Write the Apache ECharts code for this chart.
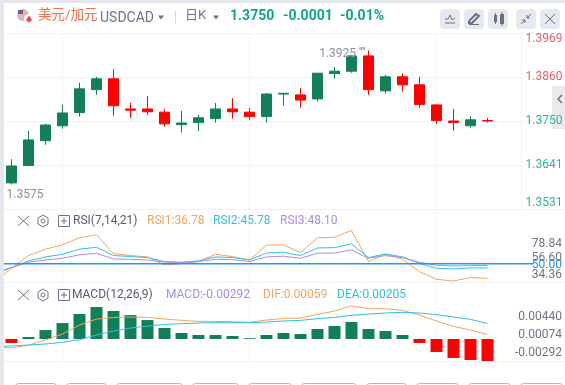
<!DOCTYPE html>
<html>
<head>
<meta charset="utf-8">
<title>USDCAD</title>
<style>
  html, body { margin: 0; padding: 0; background: #fff; }
  #chart { width: 565px; height: 385px; }
</style>
</head>
<body>
<div id="chart"></div>
<script src="https://cdn.jsdelivr.net/npm/echarts@6/dist/echarts.min.js"></script>
<script>
// 日K [open, close, low, high]，第一根在画面左侧之外，只有指标线用到
var candles = [
  '-',
  [1.3596, 1.3638, 1.3592, 1.3655], [1.3639, 1.3703, 1.3638, 1.3725], [1.3701, 1.3740, 1.3691, 1.3743],
  [1.3738, 1.3770, 1.3731, 1.3790], [1.3771, 1.3830, 1.3761, 1.3845], [1.3828, 1.3855, 1.3815, 1.3860],
  [1.3855, 1.3788, 1.3763, 1.3879], [1.3780, 1.3777, 1.3758, 1.3795], [1.3780, 1.3773, 1.3765, 1.3812],
  [1.3772, 1.3743, 1.3736, 1.3780], [1.3741, 1.3745, 1.3721, 1.3775], [1.3746, 1.3758, 1.3725, 1.3765],
  [1.3756, 1.3780, 1.3746, 1.3795], [1.3780, 1.3773, 1.3756, 1.3807], [1.3772, 1.3761, 1.3753, 1.3782],
  [1.3761, 1.3817, 1.3746, 1.3820], [1.3817, 1.3819, 1.3788, 1.3820], [1.3815, 1.3802, 1.3783, 1.3832],
  [1.3805, 1.3869, 1.3798, 1.3869], [1.3868, 1.3874, 1.3855, 1.3884], [1.3874, 1.3912, 1.3870, 1.3914],
  [1.3912, 1.3828, 1.3815, 1.3925], [1.3825, 1.3860, 1.3818, 1.3865], [1.3860, 1.3840, 1.3823, 1.3869],
  [1.3840, 1.3791, 1.3783, 1.3860], [1.3790, 1.3751, 1.3743, 1.3792], [1.3750, 1.3746, 1.3726, 1.3780],
  [1.3738, 1.3753, 1.3733, 1.3762], [1.3751, 1.3750, 1.3746, 1.3758]
];
var rsi1 = [33.2, 45.6, 56.8, 62.4, 66.2, 72.6, 75, 58.5, 56.8, 55.6, 48.5, 49.7, 51.5, 57.9, 55.9, 52.9,
  65.9, 66.2, 59.4, 72.4, 72.9, 78.84, 51.5, 58.2, 53.5, 42.6, 35.9, 34.36, 37.4, 36.78];
var rsi2 = [40.3, 46.2, 52.1, 55.6, 57.9, 62.4, 64.1, 56.8, 55.9, 55, 51.5, 50.9, 52.1, 55.6, 55, 52.9,
  59.1, 59.7, 56.8, 63.5, 63.8, 67.1, 55, 58.2, 55.6, 50, 45.6, 45, 45.9, 45.78];
var rsi3 = [41.5, 46.2, 50.9, 52.9, 54.4, 57.4, 58.8, 53.8, 53.5, 52.9, 50.9, 50.6, 51.5, 53.5, 53.2, 51.5,
  55.6, 56.2, 54.4, 58.8, 59.1, 61.8, 54.4, 56.8, 55, 50.9, 48.2, 47.6, 47.9, 48.1];
var macdBars = ['-', -0.00053, 0.00027, 0.00119, 0.00212, 0.00332, 0.00425, 0.00372, 0.00318, 0.00252, 0.00146,
  0.0008, 0.00053, 0.00053, 0.0004, 0.0001, 0.00053, 0.0008, 0.00066, 0.00133, 0.00172, 0.00226, 0.00133,
  0.00106, 0.00053, -0.00053, -0.00172, -0.00252, -0.00279, -0.00292];
var dif = [-0.00102, -0.00119, -0.0008, -0.00013, 0.00066, 0.00186, 0.00265, 0.00287, 0.00292, 0.00287, 0.00265,
  0.00248, 0.00234, 0.00234, 0.0023, 0.00221, 0.00252, 0.00274, 0.00278, 0.00327, 0.00371, 0.0044, 0.00402,
  0.00402, 0.0038, 0.00318, 0.00239, 0.00168, 0.00119, 0.00059];
var dea = [-0.00097, -0.00093, -0.0008, -0.00066, -0.00044, -0.00009, 0.00053, 0.00106, 0.00146, 0.00172, 0.00194,
  0.00203, 0.00212, 0.00217, 0.00217, 0.00217, 0.00225, 0.00239, 0.00248, 0.0027, 0.00287, 0.00314, 0.00332,
  0.00345, 0.00354, 0.00345, 0.00323, 0.00292, 0.00261, 0.00205];

var priceTicks = [1.3531, 1.3641, 1.3750, 1.3860, 1.3969];
var rsiLevel = 50;
var monthIndex = [4, 15, 26];
var monthLabels = ['2025-07', '2025-08', '2025-08'];
var rsiLabels = ['78.84', '56.60', '50.00', '34.36'];
var macdLabels = ['0.00440', '0.00074', '-0.00292'];

// 多留两格空位，右边到价格轴外
var categories = [];
for (var n = 0; n < 32; n++) categories.push(n);

var FONT = 'Roboto, "Noto Sans CJK SC", sans-serif';
var green = '#118058', red = '#ff0000';
var orange = '#f5a35c', cyan = '#2cc3dc', purple = '#a98ce8', blue = '#2196f3';
var gridLine = '#f3f4f8';

function isMonth(i) { return monthIndex.indexOf(i) >= 0; }

function xAxis(gridIndex, showLabel) {
  return {
    type: 'category', gridIndex: gridIndex, data: categories,
    axisLine: { show: false }, axisTick: { show: false },
    splitLine: { show: true, alignWithLabel: true, interval: function (i) { return isMonth(i); },
      lineStyle: { color: gridLine, width: 1 } },
    axisLabel: {
      show: showLabel, interval: function (i) { return isMonth(i); }, margin: 3,
      color: '#a3a7b7', fontSize: 12, fontFamily: FONT,
      formatter: function (v, i) { return monthLabels[monthIndex.indexOf(i)]; }
    }
  };
}

function line(name, data, color, xi) {
  return { name: name, type: 'line', data: data, xAxisIndex: xi, yAxisIndex: xi, symbol: 'none',
    lineStyle: { color: color, width: 1 }, silent: true, z: 3 };
}

function txt(x, y, text, color, extra) {
  var st = { x: x, y: y, text: text, fill: color, fontSize: 12, fontFamily: FONT, verticalAlign: 'middle' };
  for (var k in (extra || {})) st[k] = extra[k];
  return { type: 'text', z: 100, style: st };
}
function rect(x, y, w, h, fill, r, stroke) {
  return { type: 'rect', z: 100, shape: { x: x, y: y, width: w, height: h, r: r || 0 },
    style: { fill: fill, stroke: stroke || null, lineWidth: stroke ? 1 : 0 } };
}
function seg(pts, color, w) {
  return { type: 'polyline', z: 101, shape: { points: pts }, style: { stroke: color, fill: null, lineWidth: w || 1 } };
}
function caret(x, y) {
  return { type: 'polygon', z: 101, shape: { points: [[x - 3, y - 2], [x + 3, y - 2], [x, y + 2]] }, style: { fill: '#6f7485' } };
}

// 指标面板左上角的三个小图标
function panelIcons(y) {
  var c = '#6f7485';
  return [
    seg([[18, y - 5], [29, y + 5]], c), seg([[29, y - 5], [18, y + 5]], c),
    { type: 'polygon', z: 101, shape: { points: [[43, y - 6], [48, y - 3], [48, y + 3], [43, y + 6], [38, y + 3], [38, y - 3]] },
      style: { fill: null, stroke: c, lineWidth: 1 } },
    { type: 'circle', z: 101, shape: { cx: 43, cy: y, r: 2 }, style: { fill: null, stroke: c, lineWidth: 1 } },
    rect(58.5, y - 5.5, 11, 11, null, 0, c),
    seg([[61, y], [67, y]], c), seg([[64, y - 3], [64, y + 3]], c)
  ];
}

var btnIcon = '#6b7080';
var graphics = [
  // 外框和分隔线
  rect(0, 0, 565, 3, '#e4e8ee'), rect(0, 0, 4, 385, '#e4e8ee'),
  rect(4, 3, 561, 30, '#fff'), rect(4, 361.5, 561, 24, '#fff'),
  rect(4, 33, 561, 1, gridLine), rect(4, 209, 561, 1, '#f0f1f5'), rect(4, 282, 561, 1, '#f0f1f5'), rect(4, 361, 561, 1, '#f0f1f5'),
  // 国旗
  { type: 'circle', z: 101, shape: { cx: 23, cy: 15, r: 6 }, style: { fill: '#e3b5b8' } },
  { type: 'rect', z: 101, shape: { x: 18, y: 10, width: 5, height: 4 }, style: { fill: '#5b6a94' } },
  { type: 'circle', z: 102, shape: { cx: 29, cy: 19, r: 5 }, style: { fill: '#fff' } },
  { type: 'polygon', z: 103, shape: { points: [[29, 15.5], [32, 20], [29, 22.5], [26, 20]] }, style: { fill: '#e8443a' } },
  // 标题行
  txt(38, 16, '美元/加元', '#f4714a', { fontSize: 13.5 }),
  txt(100, 18, 'USDCAD', '#6f7485', { fontSize: 14 }),
  caret(161, 17.5),
  rect(175, 11, 1, 13, '#d5d8e0'),
  txt(185, 16, '日K', '#6f7485', { fontSize: 13 }),
  caret(216, 17.5),
  txt(230, 16, '1.3750', '#0fa58c', { fontSize: 14, fontWeight: 'bold' }),
  txt(283, 16, '-0.0001', '#0fa58c', { fontSize: 14, fontWeight: 'bold' }),
  txt(340, 16, '-0.01%', '#0fa58c', { fontSize: 14, fontWeight: 'bold' }),
  // 右上角按钮
  rect(440, 9, 20, 20, '#e6e9f0', 4), rect(464, 9, 20, 20, '#e6e9f0', 4), rect(488, 9, 20, 20, '#e6e9f0', 4),
  rect(516, 9, 20, 20, '#e6e9f0', 4), rect(540, 9, 20, 20, '#e6e9f0', 4),
  seg([[445, 19], [448, 19], [450, 15], [452, 20], [455, 18]], btnIcon), seg([[445, 23], [455, 23]], btnIcon),
  seg([[469, 21], [476, 14], [479, 16], [472, 23], [469, 23], [469, 21]], btnIcon, 2), seg([[469, 24.5], [479, 24.5]], btnIcon),
  rect(494, 15, 3, 7, btnIcon), rect(500, 14, 4, 10, btnIcon), seg([[495.5, 13], [495.5, 24]], btnIcon), seg([[502, 12], [502, 26]], btnIcon),
  seg([[521, 24], [525, 20]], btnIcon), seg([[527, 18], [531, 14]], btnIcon), seg([[522, 20], [525, 20], [525, 23]], btnIcon), seg([[527, 15], [527, 18], [530, 18]], btnIcon),
  seg([[545, 14], [555, 24]], btnIcon), seg([[555, 14], [545, 24]], btnIcon),
  // 右侧收起把手
  rect(552, 86, 13, 43, '#e9e9ee'),
  seg([[562, 95], [558, 99], [562, 103]], '#6b7080', 1.5),
  // 指标标题
  txt(73, 221, 'RSI(7,14,21)', '#555b6e'),
  txt(147, 221, 'RSI1:36.78', orange),
  txt(213, 221, 'RSI2:45.78', cyan),
  txt(280, 221, 'RSI3:48.10', purple),
  txt(72, 295, 'MACD(12,26,9)', '#555b6e'),
  txt(166, 295, 'MACD:-0.00292', purple),
  txt(263, 295, 'DIF:0.00059', orange),
  txt(337, 295, 'DEA:0.00205', cyan),
  // RSI / MACD 右侧数字
  txt(562, 244, rsiLabels[0], '#6f7485', { align: 'right' }),
  txt(562, 258, rsiLabels[1], '#6f7485', { align: 'right' }),
  txt(562, 265, rsiLabels[2], blue, { align: 'right' }),
  txt(562, 275, rsiLabels[3], '#6f7485', { align: 'right' }),
  txt(562, 317, macdLabels[0], '#6f7485', { align: 'right' }),
  txt(562, 335, macdLabels[1], '#6f7485', { align: 'right' }),
  txt(562, 353, macdLabels[2], '#6f7485', { align: 'right' })
].concat(panelIcons(221), panelIcons(295));

// 底部按钮，只露出上边
[[15, 41], [66, 40], [116, 66], [192, 46], [248, 43], [301, 55], [366, 40], [416, 42], [468, 42], [520, 42]].forEach(function (b) {
  graphics.push(rect(b[0] + 0.5, 383.5, b[1], 12, '#fff', 3, '#dcb36a'));
});

var chart = echarts.init(document.getElementById('chart'));
chart.setOption({
  animation: false,
  backgroundColor: '#fff',
  textStyle: { fontFamily: FONT },
  grid: [
    { left: -14, width: 544, top: 33, height: 176, outerBoundsMode: 'none' },
    { left: -14, width: 544, top: 209, height: 73, outerBoundsMode: 'none' },
    { left: -14, width: 544, top: 282, height: 79, outerBoundsMode: 'none' }
  ],
  xAxis: [xAxis(0, false), xAxis(1, false), xAxis(2, true)],
  yAxis: [
    // 横向网格线，在K线下面
    {
      type: 'value', gridIndex: 0, position: 'right', min: 1.3531, max: 1.3969,
      axisLine: { show: false }, axisLabel: { show: false, customValues: priceTicks },
      axisTick: { show: false, customValues: priceTicks },
      splitLine: { show: true, lineStyle: { color: gridLine } }
    },
    { type: 'value', gridIndex: 1, min: 33.5, max: 97.8, show: false, splitLine: { show: false } },
    { type: 'value', gridIndex: 2, min: -0.00292, max: 0.00757, show: false, splitLine: { show: false } },
    // 价格标签，压在把手和标题白底上面
    {
      type: 'value', gridIndex: 0, position: 'right', offset: -8.5, z: 120,
      min: 1.3531, max: 1.3969,
      axisLine: { show: true, lineStyle: { color: '#eff0f4' } },
      axisTick: { show: false, customValues: priceTicks },
      splitLine: { show: false },
      axisLabel: {
        customValues: priceTicks,
        margin: 4, fontSize: 12, fontFamily: FONT,
        verticalAlignMinLabel: 'bottom', verticalAlignMaxLabel: 'top',
        color: function (v) { return v > 1.38 ? '#e2626e' : '#2db49b'; },
        formatter: function (v) { return v.toFixed(4); }
      }
    }
  ],
  series: [
    {
      name: '日K', type: 'candlestick', data: candles, barWidth: 11, silent: true, z: 3,
      itemStyle: { color: green, color0: red, borderColor: green, borderColor0: red, borderWidth: 1 },
      markPoint: {
        symbol: 'circle', symbolSize: 0, silent: true,
        data: [
          { coord: [22, 1.3925], label: { show: true, formatter: "1.3925 ''''", position: 'left', distance: 0, offset: [-3, 3], color: '#8a8e9e', fontSize: 12 } },
          { coord: [1, 1.3592], label: { show: true, formatter: '1.3575', position: 'right', distance: 0, offset: [-5, 10.5], color: '#8a8e9e', fontSize: 12 } }
        ]
      }
    },
    line('RSI1', rsi1, orange, 1),
    line('RSI2', rsi2, cyan, 1),
    line('RSI3', rsi3, purple, 1),
    {
      name: 'MACD', type: 'bar', data: macdBars, xAxisIndex: 2, yAxisIndex: 2, barWidth: 12, silent: true,
      itemStyle: { color: function (p) { return p.value < 0 ? red : green; } }
    },
    line('DIF', dif, orange, 2),
    line('DEA', dea, cyan, 2)
  ]
});

// 50 线的高度从 RSI 轴取，一直画到右边数字下面
var levelY = Math.floor(chart.convertToPixel({ yAxisIndex: 1 }, rsiLevel));
graphics.push(rect(4, levelY, 529, 1.5, blue));
chart.setOption({ graphic: { elements: graphics } });
</script>
</body>
</html>
